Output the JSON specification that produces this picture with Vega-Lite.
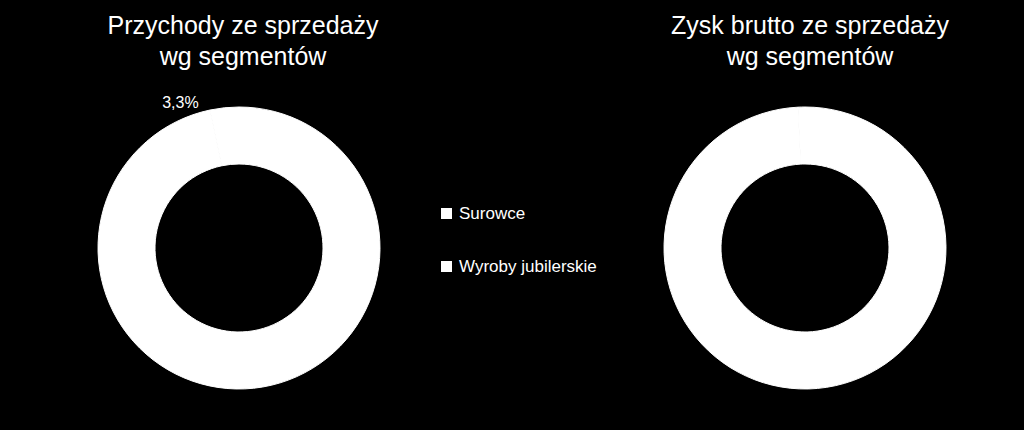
{
  "$schema": "https://vega.github.io/schema/vega-lite/v6.json",
  "background": "black",
  "padding": {"left": 0, "top": 14, "right": 0, "bottom": 0},
  "config": {
    "view": {"stroke": null},
    "font": "Liberation Sans",
    "title": {"color": "white", "fontSize": 25, "fontWeight": "normal", "lineHeight": 31, "offset": 2, "anchor": "middle"}
  },
  "data": {
    "values": [
      {"wykres": "Przychody", "segment": "Surowce", "udzial": 3.3, "etykieta": "3,3%"},
      {"wykres": "Przychody", "segment": "Wyroby jubilerskie", "udzial": 96.7, "etykieta": ""},
      {"wykres": "Zysk", "segment": "Surowce", "udzial": 0.8, "etykieta": ""},
      {"wykres": "Zysk", "segment": "Wyroby jubilerskie", "udzial": 99.2, "etykieta": ""}
    ]
  },
  "spacing": 108,
  "hconcat": [
    {
      "title": {"text": ["Przychody ze sprzedaży", "wg segmentów"], "dx": 4},
      "width": 478,
      "height": 352,
      "transform": [{"filter": "datum.wykres === 'Przychody'"}],
      "encoding": {
        "theta": {"field": "udzial", "type": "quantitative", "stack": true},
        "order": {"field": "segment", "sort": "descending"},
        "color": {
          "field": "segment",
          "type": "nominal",
          "scale": {"domain": ["Surowce", "Wyroby jubilerskie"], "range": ["#ffffff", "#ffffff"]},
          "legend": {
            "orient": "none", "legendX": 438, "legendY": 133, "title": null,
            "symbolType": "square", "symbolSize": 121, "symbolStrokeWidth": 0,
            "labelFontSize": 17, "labelColor": "white", "labelOffset": 4,
            "rowPadding": 35, "padding": 0
          }
        }
      },
      "layer": [
        {"mark": {"type": "arc", "innerRadius": 84, "outerRadius": 141, "stroke": "white", "strokeWidth": 1}},
        {
          "mark": {"type": "text", "radius": 160, "dx": -42, "dy": 14, "fontSize": 16},
          "encoding": {"text": {"field": "etykieta"}}
        }
      ]
    },
    {
      "title": {"text": ["Zysk brutto ze sprzedaży", "wg segmentów"], "dx": 5},
      "width": 438,
      "height": 352,
      "transform": [{"filter": "datum.wykres === 'Zysk'"}],
      "encoding": {
        "theta": {"field": "udzial", "type": "quantitative", "stack": true},
        "order": {"field": "segment", "sort": "descending"},
        "color": {"field": "segment", "type": "nominal"}
      },
      "layer": [
        {"mark": {"type": "arc", "innerRadius": 84, "outerRadius": 141, "stroke": "white", "strokeWidth": 1}}
      ]
    }
  ],
  "resolve": {"scale": {"color": "shared"}, "legend": {"color": "shared"}}
}
